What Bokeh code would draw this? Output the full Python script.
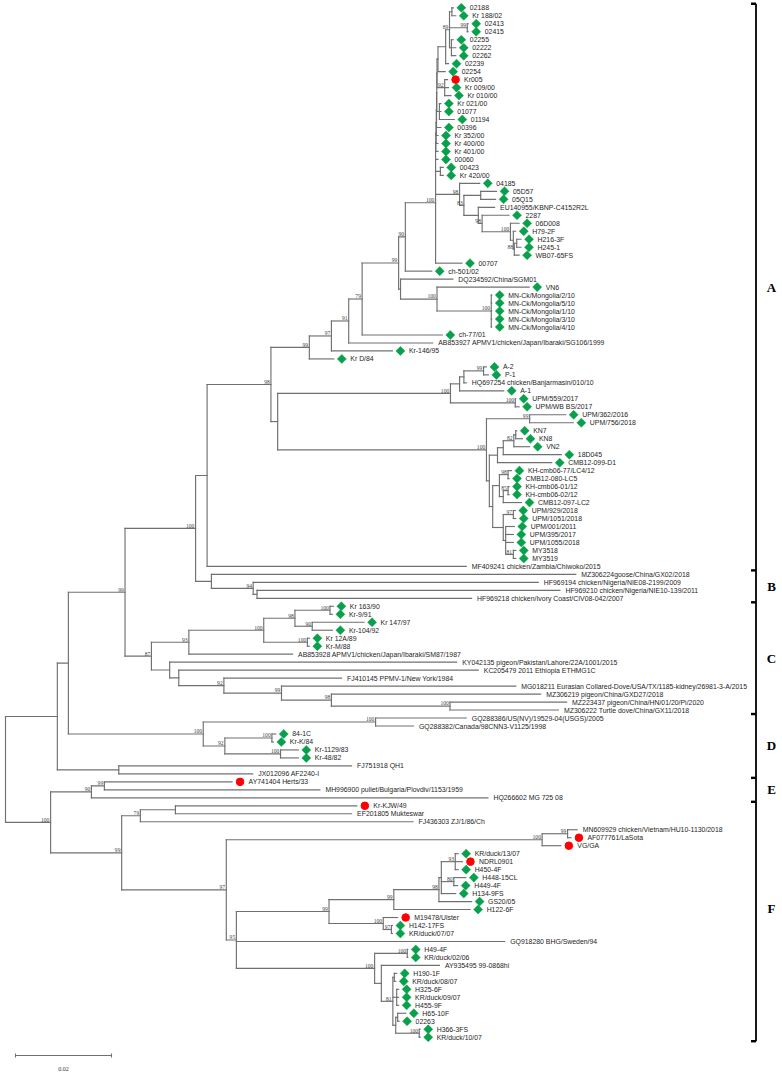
import math
from bokeh.plotting import figure
from bokeh.models import Range1d, ColumnDataSource
from bokeh.core.properties import value
from bokeh.embed import file_html
from bokeh.resources import INLINE

# ---------------- data ----------------
leaf_names = [
    "02188", "Kr 188/02", "02413", "02415", "02255", "02222", "02262", "02239", "02254", "Kr005",
    "Kr 009/00", "Kr 010/00", "Kr 021/00", "01077", "01194", "00396", "Kr 352/00", "Kr 400/00", "Kr 401/00", "00060",
    "00423", "Kr 420/00", "04185", "05D57", "05Q15", "EU140955/KBNP-C4152R2L", "2287", "06D008", "H79-2F", "H216-3F",
    "H245-1", "WB07-65FS", "00707", "ch-501/02", "DQ234592/China/SGM01", "VN6", "MN-Ck/Mongolia/2/10", "MN-Ck/Mongolia/5/10", "MN-Ck/Mongolia/1/10", "MN-Ck/Mongolia/3/10",
    "MN-Ck/Mongolia/4/10", "ch-77/01", "AB853927 APMV1/chicken/Japan/Ibaraki/SG106/1999", "Kr-146/95", "Kr D/84", "A-2", "P-1", "HQ697254 chicken/Banjarmasin/010/10", "A-1", "UPM/559/2017",
    "UPM/WB BS/2017", "UPM/362/2016", "UPM/756/2018", "KN7", "KN8", "VN2", "18D045", "CMB12-099-D1", "KH-cmb06-77/LC4/12", "CMB12-080-LC5",
    "KH-cmb06-01/12", "KH-cmb06-02/12", "CMB12-097-LC2", "UPM/929/2018", "UPM/1051/2018", "UPM/001/2011", "UPM/395/2017", "UPM/1055/2018", "MY3518", "MY3519",
    "MF409241 chicken/Zambia/Chiwoko/2015", "MZ306224goose/China/GX02/2018", "HF969194 chicken/Nigeria/NIE08-2199/2009", "HF969210 chicken/Nigeria/NIE10-139/2011", "HF969218 chicken/Ivory Coast/CIV08-042/2007", "Kr 163/90", "Kr-9/91", "Kr 147/97", "Kr-104/92", "Kr 12A/89",
    "Kr-M/88", "AB853928 APMV1/chicken/Japan/Ibaraki/SM87/1987", "KY042135 pigeon/Pakistan/Lahore/22A/1001/2015", "KC205479 2011 Ethiopia ETHMG1C", "FJ410145 PPMV-1/New York/1984", "MG018211 Eurasian Collared-Dove/USA/TX/1185-kidney/26981-3-A/2015", "MZ306219 pigeon/China/GXD27/2018", "MZ223437 pigeon/China/HN/01/20/Pi/2020", "MZ306222 Turtle dove/China/GX11/2018", "GQ288386/US(NV)/19529-04(USGS)/2005",
    "GQ288382/Canada/98CNN3-V1125/1998", "84-1C", "Kr-K/84", "Kr-1129/83", "Kr-48/82", "FJ751918 QH1", "JX012096 AF2240-I", "AY741404 Herts/33", "MH996900 pullet/Bulgaria/Plovdiv/1153/1959", "HQ266602 MG 725 08",
    "Kr-KJW/49", "EF201805 Mukteswar", "FJ436303 ZJ/1/86/Ch", "MN609929 chicken/Vietnam/HU10-1130/2018", "AF077761/LaSota", "VG/GA", "KR/duck/13/07", "NDRL0901", "H450-4F", "H448-15CL",
    "H449-4F", "H134-9FS", "GS20/05", "H122-6F", "M19478/Ulster", "H142-17FS", "KR/duck/07/07", "GQ918280 BHG/Sweden/94", "H49-4F", "KR/duck/02/06",
    "AY935495 99-0868hi", "H190-1F", "KR/duck/08/07", "H325-6F", "KR/duck/09/07", "H455-9F", "H65-10F", "02263", "H366-3FS", "KR/duck/10/07",
]

# d = green diamond, c = red circle, "" = no marker
leaf_marks = [
    "d", "d", "d", "d", "d", "d", "d", "d", "d", "c",
    "d", "d", "d", "d", "d", "d", "d", "d", "d", "d",
    "d", "d", "d", "d", "d", "", "d", "d", "d", "d",
    "d", "d", "d", "d", "", "d", "d", "d", "d", "d",
    "d", "d", "", "d", "d", "d", "d", "", "d", "d",
    "d", "d", "d", "d", "d", "d", "d", "d", "d", "d",
    "d", "d", "d", "d", "d", "d", "d", "d", "d", "d",
    "", "", "", "", "", "d", "d", "d", "d", "d",
    "d", "", "", "", "", "", "", "", "", "",
    "", "d", "d", "d", "d", "", "", "c", "", "",
    "c", "", "", "", "c", "c", "d", "c", "d", "d",
    "d", "d", "d", "d", "c", "d", "d", "", "d", "d",
    "", "d", "d", "d", "d", "d", "d", "d", "d", "d",
]

# distance of each tip from the root, substitutions per site x 1000
leaf_depth = [
    93.3, 93.8, 96.4, 96.4, 93.3, 93.8, 93.8, 92.3, 91.6, 92.1,
    92.3, 92.8, 90.7, 90.7, 93.5, 90.7, 90.1, 90.1, 90.1, 90.1,
    91.2, 91.2, 98.8, 102.3, 102.1, 101.9, 104.9, 107.0, 106.3, 107.4,
    107.4, 107.0, 95.1, 88.8, 93.2, 109.1, 101.3, 101.3, 101.3, 101.3,
    101.3, 91.0, 89.0, 80.6, 68.4, 100.2, 100.6, 96.0, 103.8, 106.3,
    107.0, 116.7, 118.3, 106.5, 107.7, 109.2, 115.8, 113.8, 105.4, 104.9,
    104.9, 104.9, 107.5, 106.2, 106.3, 106.0, 105.8, 105.8, 106.3, 106.3,
    96.0, 118.8, 111.0, 115.5, 97.1, 68.3, 68.1, 74.7, 68.1, 63.3,
    63.3, 59.8, 94.0, 98.5, 70.0, 106.3, 111.5, 116.9, 115.2, 96.0,
    85.0, 56.3, 55.8, 61.0, 61.0, 72.1, 51.5, 47.2, 65.5, 100.5,
    73.2, 72.1, 84.9, 119.1, 117.8, 115.7, 94.3, 95.2, 94.3, 95.9,
    94.2, 93.8, 97.1, 96.8, 81.7, 80.6, 80.6, 104.0, 83.8, 83.8,
    90.4, 81.5, 81.3, 81.9, 81.9, 81.9, 83.4, 82.0, 86.4, 86.4,
]

# internal nodes: id, depth (subs/site x 1000), bootstrap, children (int = leaf index)
node_ids = [
    "a1", "a2", "a3", "a4", "a5", "a6", "a7", "a8",
    "p1", "p2", "p3", "p4", "p5", "p6", "a9",
    "b1", "b2", "b3", "b4", "b5", "b6", "b7", "b8", "b9",
    "A12", "A8", "A11", "A10", "A9", "A7", "A6", "A5", "A4", "A2",
    "c1", "c2", "c3", "c4", "c5",
    "d1", "d2", "d3", "d4", "d5", "d6", "d7", "d8", "d9", "d10", "d11", "d12", "d13", "d14", "d15", "d16",
    "A3", "A1", "A", "e1", "e2", "B", "AB",
    "f1", "f2", "f3", "f4", "f5", "f6", "f7", "f8", "f9", "f10", "f11", "f12", "C", "ABC",
    "g1", "g2", "g3", "g4", "D", "ABCD", "X", "U",
    "E99", "E",
    "i1", "i2",
    "j1", "j2", "j3", "j4", "j5", "j6", "j7", "j8",
    "k1", "k2", "k3", "k4", "k5", "k6", "k7", "k8", "k9",
    "l1", "l2", "Fb1", "Fb", "W", "EF", "root",
]
node_depth = [
    93.0, 96.2, 92.9, 92.5, 91.7, 90.1, 91.5, 90.4,
    89.90, 89.85, 89.80, 89.75, 89.70, 89.65, 90.6,
    99.0, 106.5, 106.0, 105.8, 105.2, 99.3, 98.5, 95.5, 94.6,
    89.6, 83.3, 101.2, 89.9, 82.3, 81.9, 74.3, 71.5, 67.9, 63.3,
    99.6, 95.5, 94.6, 106.2, 92.7,
    109.2, 106.3, 105.9, 103.7, 102.5, 104.7, 104.7, 103.7, 102.9, 105.8, 105.8, 104.2, 103.7, 101.5, 100.8, 100.2,
    56.7, 55.3, 42.0, 52.4, 51.6, 42.9, 39.6,
    67.6, 63.9, 60.3, 62.9, 53.8, 38.2, 92.6, 67.9, 57.5, 45.5, 36.1, 34.2, 30.4, 24.9,
    77.1, 55.5, 57.3, 45.7, 41.2, 13.1, 23.6, 10.8,
    20.6, 17.9,
    117.1, 111.8,
    93.7, 93.4, 90.8, 90.3, 80.9, 80.4, 78.7, 67.4,
    83.7, 81.0, 81.5, 81.7, 86.2, 81.3, 80.7, 78.3, 76.9,
    48.1, 46.0, 35.4, 28.1, 24.2, 9.4, 0.0,
]
node_support = [
    "", "99", "", "89", "", "", "92", "",
    "", "", "", "", "", "", "",
    "", "", "88", "", "100", "98", "", "83", "98",
    "100", "90", "100", "100", "", "99", "79", "91", "97", "99",
    "99", "", "", "100", "100",
    "99", "", "82", "", "", "98", "85", "", "", "97", "81", "", "", "", "", "100",
    "", "98", "", "", "94", "", "100",
    "100", "90", "98", "100", "100", "93", "100", "98", "99", "92", "", "", "87", "99",
    "100", "100", "100", "92", "100", "", "", "",
    "99", "90",
    "99", "100",
    "93", "80", "", "98", "99", "97", "100", "99",
    "100", "", "", "", "100", "", "81", "", "100",
    "95", "97", "", "79", "99", "100", "",
]
node_children = [
    [0, 1], [2, 3], [4, 5, 6], ["a1", "a2", "a3"], ["a4", 7], ["a5", 8], [9, 10, 11], [12, 13, 14],
    ["a6", "a7"], ["p1", "a8"], ["p2", 15], ["p3", 16], ["p4", 17], ["p5", 18], [20, 21],
    [23, 24], [29, 30], ["b2", 31], [28, "b3"], [27, "b4"], [26, "b5"], [25, "b6"], ["b1", "b7"], [22, "b8"],
    ["p6", 19, "a9", "b9", 32], ["A12", 33], [36, 37, 38, 39, 40], [35, "A11"], [34, "A10"], ["A8", "A9"], ["A7", 41], ["A6", 42], ["A5", 43], ["A4", 44],
    [45, 46], ["c1", 47], ["c2", 48], [49, 50], ["c3", "c4"],
    [51, 52], [53, 54], ["d2", 55], ["d3", 56], ["d4", 57], [58, 59], [60, 61], ["d7", 62], ["d6", "d8"], [63, 64], [68, 69], [65, 66, 67, "d11"], ["d10", "d12"], ["d9", "d13"], ["d5", "d14"], ["d1", "d15"],
    ["c5", "d16"], ["A2", "A3"], ["A1", 70], [73, 74], [72, "e1"], [71, "e2"], ["A", "B"],
    [75, 76], [77, 78], ["f1", "f2"], [79, 80], ["f3", "f4"], ["f5", 81], [87, 88], [86, "f7"], [85, "f8"], [84, "f9"], [83, "f10"], [82, "f11"], ["f6", "f12"], ["AB", "C"],
    [89, 90], [91, 92], [93, 94], ["g2", "g3"], ["g1", "g4"], ["ABC", "D"], [95, 96], ["ABCD", "X"],
    [97, 98], ["E99", 99],
    [103, 104], ["i1", 105],
    [106, 107, 108], [109, 110], ["j1", "j2", 111], ["j3", 112], ["j4", 113], [115, 116], [114, "j6"], ["j5", "j7"],
    [118, 119], [121, 122], [123, 124, 125], [126, 127], [128, 129], ["k4", "k5"], ["k2", "k3", "k6"], [120, "k7"], ["k1", "k8"],
    ["j8", 117, "k9"], ["i2", "l1"], [100, 101], ["Fb1", 102], ["Fb", "l2"], ["E", "W"], ["U", "EF"],
]

clade_names = ["A", "B", "C", "D", "E", "F"]
clade_first = [0, 71, 75, 89, 97, 100]
clade_last = [70, 74, 88, 96, 99, 129]

scale_value = 0.02
scale_text = "0.02"

# ---------------- layout ----------------
W, H = 782, 1076
PX = 4800.0          # pixels per substitution/site
ROW = 7.98           # pixels per leaf row
X0 = -5.0 / PX
Y_TOP = -7.3 / ROW
x_rng = Range1d(X0, X0 + W / PX)
y_rng = Range1d(Y_TOP + H / ROW, Y_TOP)


def px2x(px):
    return X0 + px / PX


def py2row(py):
    return Y_TOP + py / ROW


idx = {n: k for k, n in enumerate(node_ids)}


def depth(ref):
    if isinstance(ref, int):
        return leaf_depth[ref] / 1000.0
    return node_depth[idx[ref]] / 1000.0


_ycache = {}


def row_of(ref):
    if isinstance(ref, int):
        return float(ref)
    if ref not in _ycache:
        kids = node_children[idx[ref]]
        _ycache[ref] = (row_of(kids[0]) + row_of(kids[-1])) / 2.0
    return _ycache[ref]


sx0, sy0, sx1, sy1 = [], [], [], []
for nid, kids in zip(node_ids, node_children):
    nx = depth(nid)
    sx0.append(nx); sy0.append(row_of(kids[0])); sx1.append(nx); sy1.append(row_of(kids[-1]))
    for k in kids:
        sx0.append(nx); sy0.append(row_of(k)); sx1.append(depth(k)); sy1.append(row_of(k))

p = figure(width=W, height=H, x_range=x_rng, y_range=y_rng,
           output_backend="svg", toolbar_location=None, min_border=0,
           background_fill_color="white", border_fill_color="white")
p.axis.visible = False
p.grid.visible = False
p.outline_line_color = None

p.segment(sx0, sy0, sx1, sy1, line_color="#707070", line_width=1.15, line_cap="square")

# markers
mk_off = 8.0 / PX
dx = [depth(i) + mk_off for i, m in enumerate(leaf_marks) if m == "d"]
dy = [float(i) for i, m in enumerate(leaf_marks) if m == "d"]
cx = [depth(i) + mk_off for i, m in enumerate(leaf_marks) if m == "c"]
cy = [float(i) for i, m in enumerate(leaf_marks) if m == "c"]
p.scatter(dx, dy, marker="square", angle=math.pi / 4, size=6.4,
          fill_color="#08a04b", line_color="#08a04b", line_width=0.5)
p.scatter(cx, cy, marker="circle", size=7.6, fill_color="#ff0000", line_color="#ff0000")

# leaf labels
lab = ColumnDataSource(dict(
    x=[depth(i) for i in range(len(leaf_names))],
    y=[float(i) for i in range(len(leaf_names))],
    t=leaf_names,
    xo=[16.5 if m else 5.5 for m in leaf_marks],
))
p.text(x="x", y="y", text="t", x_offset="xo", source=lab, text_baseline="middle",
       text_align="left", text_font=value("Liberation Sans"), text_font_size="6.9px",
       text_color="#1e1e1e")

# bootstrap values
bx = [depth(n) for n, s in zip(node_ids, node_support) if s]
by = [row_of(n) for n, s in zip(node_ids, node_support) if s]
bt = [s for s in node_support if s]
p.text(bx, by, bt, x_offset=-1.2, y_offset=-0.6, text_align="right", text_baseline="bottom",
       text_font=value("Liberation Serif"), text_font_size="5.6px", text_color="#444444")

# clade bracket
bxr = px2x(755.5)
edges = [clade_first[0] - 0.5] + [l + 0.5 for l in clade_last]
p.segment([bxr], [edges[0]], [bxr], [edges[-1]], line_color="black", line_width=1.8)
p.segment([px2x(750.5)] * len(edges), edges, [bxr] * len(edges), edges,
          line_color="black", line_width=2.4)
label_shift_px = [0, 0, 0, 0, 0, -13]
lrows = [(f + l) / 2.0 + s / ROW for f, l, s in zip(clade_first, clade_last, label_shift_px)]
p.text([px2x(771)] * len(clade_names), lrows, clade_names, text_align="center",
       text_baseline="middle", text_font=value("Liberation Serif"), text_font_style="bold",
       text_font_size="13px", text_color="black")

# scale bar
sb_x = px2x(15)
sb_y = py2row(1055)
p.segment([sb_x, sb_x, sb_x + scale_value], [sb_y, sb_y - 2 / ROW, sb_y - 2 / ROW],
          [sb_x + scale_value, sb_x, sb_x + scale_value], [sb_y, sb_y + 2 / ROW, sb_y + 2 / ROW],
          line_color="#707070", line_width=1.1)
p.text([sb_x + scale_value / 2], [py2row(1068)], [scale_text], text_align="center",
       text_baseline="middle", text_font=value("Liberation Serif"), text_font_size="6px",
       text_color="#333333")

open("out.html", "w").write(file_html(p, INLINE))
